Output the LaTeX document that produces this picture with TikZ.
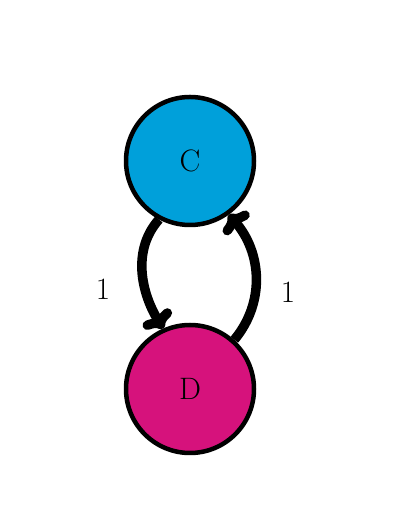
\documentclass[tikz,border=0pt]{standalone}
\usetikzlibrary{arrows.meta}
\definecolor{ccol}{RGB}{0,160,218}
\definecolor{dcol}{RGB}{214,18,124}
\begin{document}
\begin{tikzpicture}[x=1pt,y=1pt,
  state/.style={circle,draw=black,line width=4.5pt,minimum size=128pt,inner sep=0pt,font=\fontsize{31}{36}\selectfont},
  arr/.style={line width=9.5pt,-{Computer Modern Rightarrow[line cap=round,scale=0.7]}},
  lab/.style={font=\fontsize{31}{36}\selectfont}]
\useasboundingbox (0,0) rectangle (411,516);
\node[state,fill=ccol] (C) at (190,355) {C};
\node[state,fill=dcol] (D) at (190,127) {D};
\draw[arr] (C.242) .. controls +(-27,-30.5) and +(-22,36) .. (D.114);
\draw[arr] (D.48) .. controls +(31,37.4) and +(33,-38) .. (C.306);
\node[lab] (l1) at (103,227) {1};
\node[lab] (l2) at (288,224) {1};
\end{tikzpicture}
\end{document}
